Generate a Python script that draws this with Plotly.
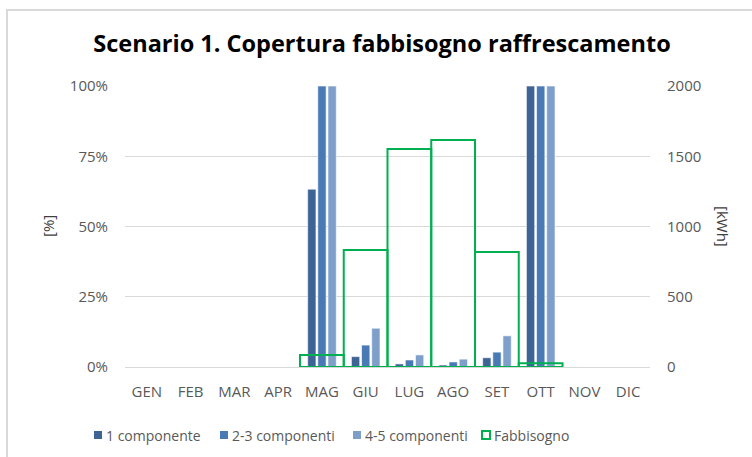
import plotly.graph_objects as go

mesi = ["GEN", "FEB", "MAR", "APR", "MAG", "GIU", "LUG", "AGO", "SET", "OTT", "NOV", "DIC"]
comp_1 = [None, None, None, None, 63.3, 3.7, 1.1, 0.7, 3.3, 100, None, None]
comp_2_3 = [None, None, None, None, 100, 7.8, 2.5, 1.8, 5.3, 100, None, None]
comp_4_5 = [None, None, None, None, 100, 13.8, 4.3, 2.8, 11.1, 100, None, None]
fabbisogno = [None, None, None, None, 85, 833, 1552, 1616, 818, 26, None, None]

FONT = "Open Sans"
TXT = "#595959"
GRID = "#D9D9D9"
VERDE = "#00B050"

fig = go.Figure()

serie = [
    ("1 componente", comp_1, "#3E6496", -0.325),
    ("2-3 componenti", comp_2_3, "#4A7AB6", -0.093),
    ("4-5 componenti", comp_4_5, "#7F9FCB", 0.139),
]
for nome, valori, colore, off in serie:
    fig.add_trace(go.Bar(
        x=mesi, y=valori, name=nome,
        marker=dict(color=colore, line=dict(color="white", width=0.6)),
        width=0.19, offset=off, yaxis="y", showlegend=False,
    ))

fig.add_trace(go.Bar(
    x=mesi, y=fabbisogno, name="Fabbisogno",
    marker=dict(color="rgba(0,0,0,0)", line=dict(color=VERDE, width=2)),
    width=1.0, offset=-0.5, yaxis="y2", showlegend=False,
))

# plot area spans x 125..650 px, y 86..367 px
L, R, T, B = 125, 650, 86, 367
W, H = 752, 457

def px_x(p):
    return (p - L) / (R - L)

def px_y(p):
    return (B - p) / (B - T)

# legend drawn as swatches + labels below the plot
legenda = [
    ("1 componente", "#3E6496", None, 98),
    ("2-3 componenti", "#4A7AB6", None, 224),
    ("4-5 componenti", "#7F9FCB", None, 357),
    ("Fabbisogno", "white", VERDE, 486),
]
shapes = [
    dict(type="line", xref="paper", yref="paper",
         x0=px_x(7), x1=px_x(7), y0=px_y(9), y1=px_y(460),
         line=dict(color=GRID, width=2)),
    dict(type="line", xref="paper", yref="paper",
         x0=px_x(6), x1=px_x(760), y0=px_y(10), y1=px_y(10),
         line=dict(color=GRID, width=2)),
]
annotations = [
    dict(text="[%]", xref="paper", yref="paper", x=px_x(48), y=px_y(226),
         xanchor="center", yanchor="middle", textangle=-90, showarrow=False,
         font=dict(size=15, color="#404040")),
    dict(text="[kWh]", xref="paper", yref="paper", x=px_x(723), y=px_y(226),
         xanchor="center", yanchor="middle", textangle=90, showarrow=False,
         font=dict(size=15, color="#404040")),
]
ly = 435
for testo, fill, bordo, cx in legenda:
    s = 4
    shapes.append(dict(
        type="rect", xref="paper", yref="paper",
        x0=px_x(cx - s), x1=px_x(cx + s), y0=px_y(ly + s), y1=px_y(ly - s),
        fillcolor=fill,
        line=dict(color=bordo if bordo else fill, width=2 if bordo else 0),
    ))
    annotations.append(dict(
        text=testo, xref="paper", yref="paper", x=px_x(cx + 6), y=px_y(ly),
        xanchor="left", yanchor="middle", showarrow=False,
        font=dict(size=14, color=TXT),
    ))

fig.update_layout(
    width=W, height=H,
    margin=dict(l=L, r=W - R, t=T, b=H - B, pad=0, autoexpand=False),
    paper_bgcolor="white", plot_bgcolor="white",
    barmode="overlay",
    font=dict(family=FONT, size=15, color=TXT),
    title=dict(
        text="<b>Scenario 1. Copertura fabbisogno raffrescamento</b>",
        x=382 / W, xanchor="center", y=1 - 44 / H, yanchor="middle",
        font=dict(family=FONT, size=23.5, color="black"),
    ),
    xaxis=dict(
        type="category", showgrid=False, showline=False, ticks="",
        tickfont=dict(size=15, color=TXT), ticklabelstandoff=14,
        range=[-0.5, 11.5],
    ),
    yaxis=dict(
        range=[0, 100], tickvals=[0, 25, 50, 75, 100],
        ticktext=["0%", "25%", "50%", "75%", "100%"],
        showgrid=True, gridcolor=GRID, gridwidth=1.3,
        zeroline=True, zerolinecolor=GRID, zerolinewidth=1.3,
        showline=False, ticks="", ticklabelstandoff=16,
        tickfont=dict(size=15, color=TXT),
    ),
    yaxis2=dict(
        overlaying="y", side="right", range=[0, 2000],
        tickvals=[0, 500, 1000, 1500, 2000],
        showgrid=False, zeroline=False, showline=False, ticks="",
        ticklabelstandoff=16, tickfont=dict(size=15, color=TXT),
    ),
    showlegend=False,
    annotations=annotations,
    shapes=shapes,
)

fig.write_html("out.html")
